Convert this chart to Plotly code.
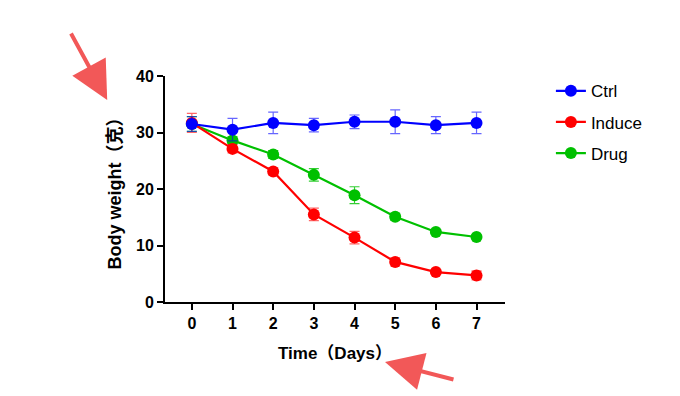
import plotly.graph_objects as go

days = [0, 1, 2, 3, 4, 5, 6, 7]
ctrl = [31.5, 30.5, 31.7, 31.3, 31.9, 31.9, 31.3, 31.7]
ctrl_err = [1.3, 2.0, 1.9, 1.2, 1.2, 2.1, 1.5, 1.9]
induce = [31.7, 27.1, 23.1, 15.5, 11.4, 7.1, 5.3, 4.7]
induce_err = [1.7, 0.7, 0.6, 1.1, 1.1, 0.7, 0.3, 0.8]
drug = [31.5, 28.6, 26.1, 22.5, 18.9, 15.1, 12.4, 11.5]
drug_err = [1.3, 0.6, 0.7, 1.1, 1.5, 0.6, 0.3, 0.3]

series = [
    ("Ctrl", ctrl, ctrl_err, "#0000FF", "rgba(0,0,255,0.6)", 1),
    ("Induce", induce, induce_err, "#FF0000", "rgba(255,0,0,0.6)", 2),
    ("Drug", drug, drug_err, "#00C000", "rgba(0,192,0,0.8)", 3),
]

FONT = "Arial, 'Liberation Sans', 'Noto Sans CJK SC', sans-serif"

fig = go.Figure()
for name, vals, err, col, ecol, rank in reversed(series):
    fig.add_trace(go.Scatter(
        x=days, y=vals, name=name, mode="lines+markers", legendgroup=name,
        legendrank=rank,
        line=dict(color=col, width=2.2),
        marker=dict(color=col, size=12),
        error_y=dict(type="data", array=err, visible=True, color=ecol, thickness=1.2, width=5),
    ))

fig.update_layout(
    width=680, height=396,
    margin=dict(l=157, r=183, t=68, b=102, autoexpand=False),
    paper_bgcolor="white", plot_bgcolor="white",
    font=dict(family=FONT, color="black"),
    showlegend=True,
    legend=dict(x=1.135, y=1.012, xanchor="left", yanchor="top",
                font=dict(size=17, family=FONT), traceorder="grouped",
                tracegroupgap=6, itemwidth=30, bgcolor="rgba(0,0,0,0)"),
    xaxis=dict(range=[-0.66, 7.7], tickvals=days, showgrid=False, zeroline=False,
               showline=True, linecolor="black", linewidth=2,
               ticks="outside", ticklen=6, tickwidth=2, tickcolor="black",
               tickfont=dict(size=16, family=FONT, weight="bold"),
               title=dict(text="<b>Time（Days）</b>", font=dict(size=17, family=FONT), standoff=16)),
    yaxis=dict(range=[0, 40], tickvals=[0, 10, 20, 30, 40], showgrid=False, zeroline=False,
               showline=True, linecolor="black", linewidth=2,
               ticks="outside", ticklen=6, tickwidth=2, tickcolor="black",
               tickfont=dict(size=16, family=FONT, weight="bold"),
               title=dict(text="<b>Body weight（克）</b>", font=dict(size=18, family=FONT), standoff=10)),
)

arrow_col = "#F25858"
fig.add_annotation(xref="paper", yref="paper", x=-0.17, y=0.894, ax=-37, ay=-68,
                   text="", showarrow=True, arrowhead=2, arrowsize=1.9, arrowwidth=4,
                   arrowcolor=arrow_col)
fig.add_annotation(xref="paper", yref="paper", x=0.647, y=-0.265, ax=70, ay=18,
                   text="", showarrow=True, arrowhead=2, arrowsize=1.9, arrowwidth=4,
                   arrowcolor=arrow_col)

fig.write_html("out.html")
